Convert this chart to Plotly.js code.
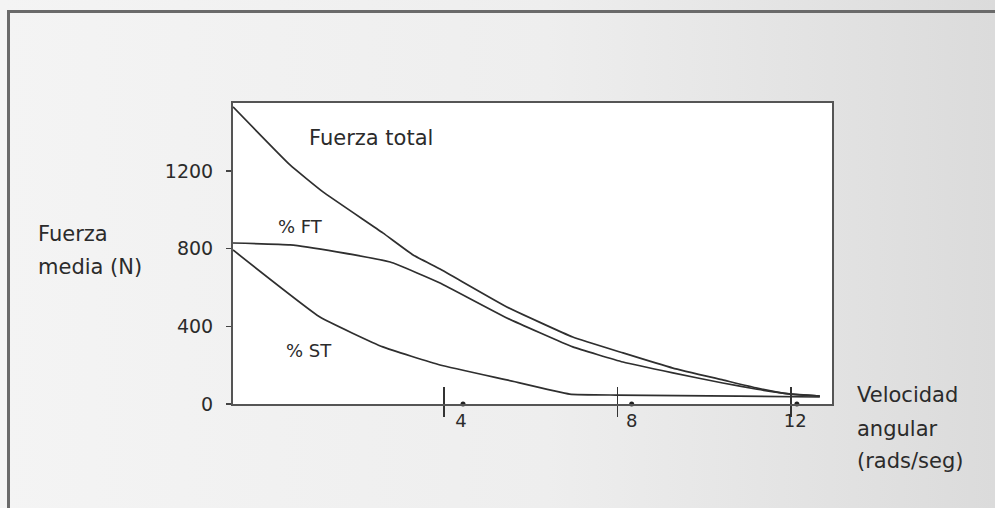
<!DOCTYPE html>
<html>
<head>
<meta charset="utf-8">
<script src="https://cdn.plot.ly/plotly-3.0.1.min.js"></script>
<style>
  html, body { margin: 0; padding: 0; }
  body { width: 995px; height: 508px; overflow: hidden;
         background: linear-gradient(to right, #f4f4f4 0%, #eeeeee 55%, #dbdbdb 100%); }
  #frame { position: absolute; left: 7px; top: 10px; width: 988px; height: 498px;
           border-top: 3px solid #6a6a6a; border-left: 3px solid #6a6a6a; }
  #chart { position: absolute; left: 0; top: 0; width: 995px; height: 508px; }
</style>
</head>
<body>
<div id="frame"></div>
<div id="chart"></div>
<script>
// Velocidad angular (rads/seg) vs Fuerza media (N)
const totalX = [-0.865, 0.45, 1.21, 2.59, 3.29, 3.91, 5.45, 6.97, 8.13, 9.28, 10.43, 11.22, 11.98, 12.67];
const totalY = [1530, 1231, 1092, 881, 767, 695, 500, 345, 263, 185, 124, 82, 51, 41];

const ftX = [-0.865, 0.45, 1.53, 2.76, 3.38, 3.91, 5.45, 6.97, 8.13, 9.28, 10.43, 11.22, 11.98, 12.67];
const ftY = [829, 819, 783, 731, 675, 623, 443, 294, 216, 160, 108, 76, 52, 41];

const stX = [-0.865, 1.14, 2.59, 3.91, 5.45, 6.9, 7.99, 10.8, 12.67];
const stY = [793, 448, 294, 201, 124, 51, 46, 41, 36];

const markX = [4.44, 8.33, 12.14];
const markY = [0, 0, 0];

const xTicks = [4, 8, 12];
const xLabelPos = [4.39, 8.33, 12.1];
const xTickText = ['4', '8', '12'];
const yTicks = [0, 400, 800, 1200];
const yTickText = ['0', '400', '800', '1200'];

const seriesNames = ['Fuerza total', '% FT', '% ST'];
const yLabelLines = ['Fuerza', 'media (N)'];
const xLabelLines = ['Velocidad', 'angular', '(rads/seg)'];

const FONT = '"DejaVu Sans", sans-serif';
const INK = '#2b2b2b';

const lineStyle = { color: '#2f2f2f', width: 1.7, shape: 'spline', smoothing: 0.35 };

const traces = [
  { x: totalX, y: totalY, mode: 'lines', line: lineStyle, name: seriesNames[0], hoverinfo: 'skip' },
  { x: ftX, y: ftY, mode: 'lines', line: lineStyle, name: seriesNames[1], hoverinfo: 'skip' },
  { x: stX, y: stY, mode: 'lines', line: lineStyle, name: seriesNames[2], hoverinfo: 'skip' },
  { x: markX, y: markY, mode: 'markers', marker: { color: '#222', size: 5 }, hoverinfo: 'skip', cliponaxis: false },
  { x: markX, y: markY, xaxis: 'x2', mode: 'markers', marker: { opacity: 0 }, hoverinfo: 'skip' },
  { x: markX, y: markY, xaxis: 'x3', mode: 'markers', marker: { opacity: 0 }, hoverinfo: 'skip' }
];

// plot area in pixels: left 233, right 832, top 103, bottom 404
const H = 301;
function py(p) { return (404 - p) / H; }
function px(p) { return (p - 233) / 599; }

function ann(text, x, y, size, extra) {
  return Object.assign({ text: text, x: x, y: y, showarrow: false,
    font: { size: size, color: INK, family: FONT } }, extra || {});
}

const annotations = [
  ann(seriesNames[0], 2.32, 1370, 21, { xref: 'x', yref: 'y' }),
  ann(seriesNames[1], 0.70, 912, 18, { xref: 'x', yref: 'y' }),
  ann(seriesNames[2], 0.89, 278, 18, { xref: 'x', yref: 'y' }),
  ann(yLabelLines[0], px(36), py(234), 21, { xref: 'paper', yref: 'paper', xanchor: 'left', yanchor: 'middle' }),
  ann(yLabelLines[1], px(36), py(267), 21, { xref: 'paper', yref: 'paper', xanchor: 'left', yanchor: 'middle' }),
  ann(xLabelLines[0], px(855), py(395), 21, { xref: 'paper', yref: 'paper', xanchor: 'left', yanchor: 'middle' }),
  ann(xLabelLines[1], px(855), py(429), 21, { xref: 'paper', yref: 'paper', xanchor: 'left', yanchor: 'middle' }),
  ann(xLabelLines[2], px(855), py(461), 21, { xref: 'paper', yref: 'paper', xanchor: 'left', yanchor: 'middle' })
];

const xRange = [-0.865, 12.95];

const layout = {
  width: 995, height: 508,
  margin: { l: 233, r: 163, t: 103, b: 104, pad: 0 },
  paper_bgcolor: 'rgba(0,0,0,0)',
  plot_bgcolor: '#ffffff',
  showlegend: false,
  xaxis: {
    range: xRange, tickmode: 'array', tickvals: xTicks, ticktext: xTickText,
    showticklabels: false, ticks: 'outside', ticklen: 11, tickwidth: 1.7, tickcolor: '#333',
    showgrid: false, zeroline: false, showline: true, linecolor: '#555', linewidth: 2, mirror: true,
    fixedrange: true
  },
  xaxis2: {
    overlaying: 'x', anchor: 'y', side: 'bottom', range: xRange,
    tickmode: 'array', tickvals: xTicks, showticklabels: false,
    ticks: 'inside', ticklen: 17, tickwidth: 1.7, tickcolor: '#333',
    showgrid: false, zeroline: false, showline: false, fixedrange: true
  },
  xaxis3: {
    overlaying: 'x', anchor: 'y', side: 'bottom', range: xRange,
    tickmode: 'array', tickvals: xLabelPos, ticktext: xTickText,
    ticks: '', ticklabelstandoff: 4,
    tickfont: { size: 18, color: INK, family: FONT },
    showgrid: false, zeroline: false, showline: false, fixedrange: true
  },
  yaxis: {
    range: [0, 1550], tickmode: 'array', tickvals: yTicks, ticktext: yTickText,
    ticks: 'outside', ticklen: 5, tickwidth: 1.5, tickcolor: '#444',
    ticklabelstandoff: 9,
    tickfont: { size: 19, color: INK, family: FONT },
    showgrid: false, zeroline: false, showline: true, linecolor: '#555', linewidth: 2, mirror: true,
    fixedrange: true
  },
  annotations: annotations
};

Plotly.newPlot('chart', traces, layout, { staticPlot: true, displayModeBar: false });
</script>
</body>
</html>
